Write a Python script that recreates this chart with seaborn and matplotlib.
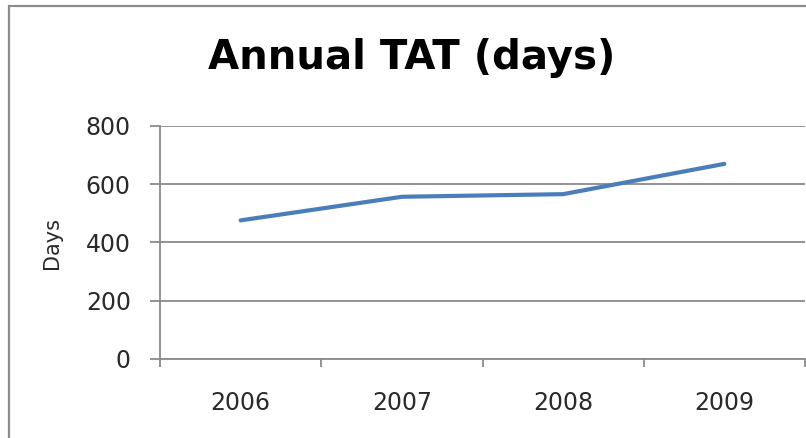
import matplotlib
matplotlib.use("Agg")
import matplotlib.pyplot as plt
from matplotlib.patches import Rectangle
from matplotlib.ticker import FixedLocator
import seaborn as sns
import pandas as pd

# Annual turnaround time
years = ["2006", "2007", "2008", "2009"]
tat_days = [476, 557, 566, 670]
y_ticks = [0, 200, 400, 600, 800]

df = pd.DataFrame({"year": years, "days": tat_days})

sns.set_theme(style="white")
plt.rcParams["font.family"] = ["DejaVu Sans"]

W, H = 806, 438
fig = plt.figure(figsize=(W / 100, H / 100), dpi=100)
fig.patch.set_facecolor("white")

ax = fig.add_axes([160 / W, 1 - 359 / H, (805 - 160) / W, (359 - 126) / H])
ax.set_facecolor("white")

sns.lineplot(data=df, x="year", y="days", ax=ax, color="#4A7EBB",
             linewidth=3.0, sort=False)

grid_c = "#8a8a8a"
text_c = "#2a2a2a"
ax.set_ylim(0, 800)
ax.set_xlim(-0.5, len(years) - 0.5)
ax.set_yticks(y_ticks)
ax.set_yticklabels([str(v) for v in y_ticks])
ax.yaxis.grid(True, color=grid_c, linewidth=1.3)
ax.xaxis.grid(False)
ax.set_axisbelow(True)

for side in ["top", "right"]:
    ax.spines[side].set_visible(False)
for side in ["left", "bottom"]:
    ax.spines[side].set_color(grid_c)
    ax.spines[side].set_linewidth(1.3)

# category labels centred, tick marks on the boundaries between categories
ax.set_xticks(range(len(years)))
ax.set_xticklabels(years)
ax.xaxis.set_minor_locator(FixedLocator([i - 0.5 for i in range(len(years) + 1)]))
ax.tick_params(axis="x", which="major", length=0, pad=23, labelsize=17,
               labelcolor=text_c)
ax.tick_params(axis="x", which="minor", length=6, width=1.3, color=grid_c,
               direction="out", bottom=True)
ax.tick_params(axis="y", which="major", length=7, width=1.3, color=grid_c,
               direction="out", left=True, pad=14, labelsize=17,
               labelcolor=text_c)

ax.set_xlabel("")
ax.set_ylabel("")
fig.text(52 / W, 1 - 243 / H, "Days", rotation=90, ha="center", va="center",
         fontsize=15, color=text_c)

fig.text(412 / W, 1 - 69 / H, "Annual TAT (days)", ha="center",
         va="baseline", fontsize=29, fontweight="bold", color="black")

# outer chart frame
fig.patches.append(Rectangle((9 / W, -0.2), 1.2, 1 - 6 / H + 0.2,
                             transform=fig.transFigure, fill=False,
                             edgecolor="#8c8c8c", linewidth=1.6))

fig.savefig("out.png", dpi=100, facecolor="white")
